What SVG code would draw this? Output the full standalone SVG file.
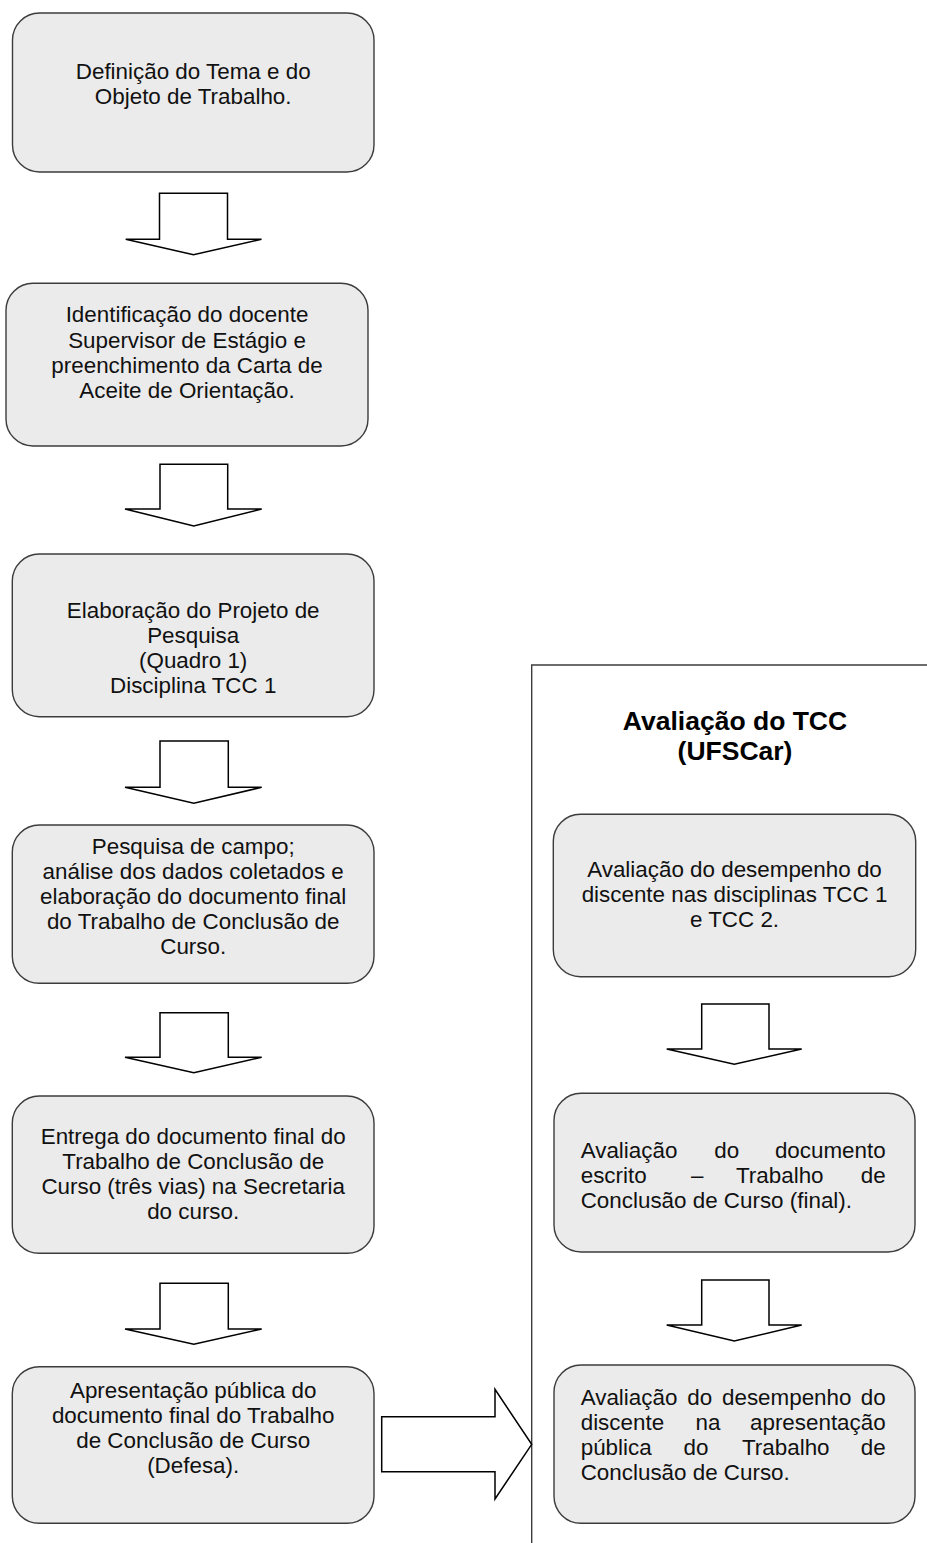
<svg xmlns="http://www.w3.org/2000/svg" width="927" height="1543" viewBox="0 0 927 1543">
<style>
.box{fill:#ebebeb;stroke:#3c3c3c;stroke-width:1.4}
.arr{fill:#ffffff;stroke:#000000;stroke-width:1.5;stroke-linejoin:miter}
.t{font-family:"Liberation Sans",Arial,sans-serif;font-size:22.4px;fill:#111111}
.c{text-anchor:middle}
.e{text-anchor:end}
.title{font-family:"Liberation Sans",Arial,sans-serif;font-size:26.5px;font-weight:bold;fill:#000000;text-anchor:middle}
.panel{fill:none;stroke:#3c3c3c;stroke-width:1.4}
</style>
<rect width="927" height="1543" fill="#ffffff"/>
<g id="panel">
<path class="panel" d="M531.7 1543 V665 H927"/>
<text class="title" x="735" y="730">Avaliação do TCC</text>
<text class="title" x="735" y="760">(UFSCar)</text>
</g>
<g id="n1">
<rect class="box" x="12.5" y="13" width="361.5" height="159" rx="27"/>
<text class="t c" x="193.2" y="79">Definição do Tema e do</text>
<text class="t c" x="193.2" y="104">Objeto de Trabalho.</text>
</g>
<g id="n2">
<rect class="box" x="6" y="283.3" width="362" height="162.7" rx="27"/>
<text class="t c" x="187" y="322.3">Identificação do docente</text>
<text class="t c" x="187" y="347.5">Supervisor de Estágio e</text>
<text class="t c" x="187" y="372.7">preenchimento da Carta de</text>
<text class="t c" x="187" y="398">Aceite de Orientação.</text>
</g>
<g id="n3">
<rect class="box" x="12.3" y="554" width="361.7" height="162.7" rx="27"/>
<text class="t c" x="193.2" y="618.3">Elaboração do Projeto de</text>
<text class="t c" x="193.2" y="643.3">Pesquisa</text>
<text class="t c" x="193.2" y="668.3">(Quadro 1)</text>
<text class="t c" x="193.2" y="693.3">Disciplina TCC 1</text>
</g>
<g id="n4">
<rect class="box" x="12.3" y="825" width="361.7" height="158.3" rx="27"/>
<text class="t c" x="193.2" y="854.3">Pesquisa de campo;</text>
<text class="t c" x="193.2" y="879.3">análise dos dados coletados e</text>
<text class="t c" x="193.2" y="904.3">elaboração do documento final</text>
<text class="t c" x="193.2" y="929.3">do Trabalho de Conclusão de</text>
<text class="t c" x="193.2" y="954.3">Curso.</text>
</g>
<g id="n5">
<rect class="box" x="12.3" y="1096" width="361.7" height="157.3" rx="27"/>
<text class="t c" x="193.2" y="1144.3">Entrega do documento final do</text>
<text class="t c" x="193.2" y="1169.3">Trabalho de Conclusão de</text>
<text class="t c" x="193.2" y="1194.3">Curso (três vias) na Secretaria</text>
<text class="t c" x="193.2" y="1219.3">do curso.</text>
</g>
<g id="n6">
<rect class="box" x="12.3" y="1366.7" width="361.7" height="156.6" rx="27"/>
<text class="t c" x="193.2" y="1397.7">Apresentação pública do</text>
<text class="t c" x="193.2" y="1422.7">documento final do Trabalho</text>
<text class="t c" x="193.2" y="1447.7">de Conclusão de Curso</text>
<text class="t c" x="193.2" y="1472.7">(Defesa).</text>
</g>
<g id="r1">
<rect class="box" x="553.3" y="814.3" width="362.4" height="162.4" rx="27"/>
<text class="t c" x="734.5" y="877.3">Avaliação do desempenho do</text>
<text class="t c" x="734.5" y="902.3">discente nas disciplinas TCC 1</text>
<text class="t c" x="734.5" y="927.3">e TCC 2.</text>
</g>
<g id="r2">
<rect class="box" x="554" y="1093.3" width="361" height="158.7" rx="27"/>
<text class="t" x="580.7" y="1158.3">Avaliação</text>
<text class="t" x="714.2" y="1158.3">do</text>
<text class="t e" x="885.7" y="1158.3">documento</text>
<text class="t" x="580.7" y="1183.3">escrito</text>
<text class="t" x="691" y="1183.3">–</text>
<text class="t" x="736" y="1183.3">Trabalho</text>
<text class="t e" x="885.7" y="1183.3">de</text>
<text class="t" x="580.7" y="1208.3">Conclusão de Curso (final).</text>
</g>
<g id="r3">
<rect class="box" x="554" y="1365" width="361" height="158.3" rx="27"/>
<text class="t" x="580.7" y="1405.3">Avaliação</text>
<text class="t" x="687.2" y="1405.3">do</text>
<text class="t" x="722" y="1405.3">desempenho</text>
<text class="t e" x="885.7" y="1405.3">do</text>
<text class="t" x="580.7" y="1430.3">discente</text>
<text class="t" x="695.5" y="1430.3">na</text>
<text class="t e" x="885.7" y="1430.3">apresentação</text>
<text class="t" x="580.7" y="1455.3">pública</text>
<text class="t" x="683.6" y="1455.3">do</text>
<text class="t" x="742" y="1455.3">Trabalho</text>
<text class="t e" x="885.7" y="1455.3">de</text>
<text class="t" x="580.7" y="1480.3">Conclusão de Curso.</text>
</g>
<g id="connectors">
<path class="arr" d="M159.5 193.3 H227.5 V239.3 H261.5 L193.5 254.7 L125.7 239.3 H159.5 Z"/>
<path class="arr" d="M160 464.3 H227.7 V509 H261.7 L193.8 526 L125 509 H160 Z"/>
<path class="arr" d="M160 741 H228.3 V787.3 H261.7 L193.8 803.3 L125 787.3 H160 Z"/>
<path class="arr" d="M160 1012.7 H228.3 V1057.3 H261.7 L193.8 1072.7 L125 1057.3 H160 Z"/>
<path class="arr" d="M160 1283.3 H228.3 V1329 H261.7 L193.8 1344.3 L125 1329 H160 Z"/>
<path class="arr" d="M701.7 1004 H769 V1049 H801.7 L734.3 1064.3 L666.7 1049 H701.7 Z"/>
<path class="arr" d="M701.7 1280 H769 V1325 H801.7 L734.3 1341 L666.7 1325 H701.7 Z"/>
<path class="arr" d="M381.7 1416.7 H495 V1389.3 L531.7 1444.3 L495 1499 V1471.7 H381.7 Z"/>
</g>
</svg>
